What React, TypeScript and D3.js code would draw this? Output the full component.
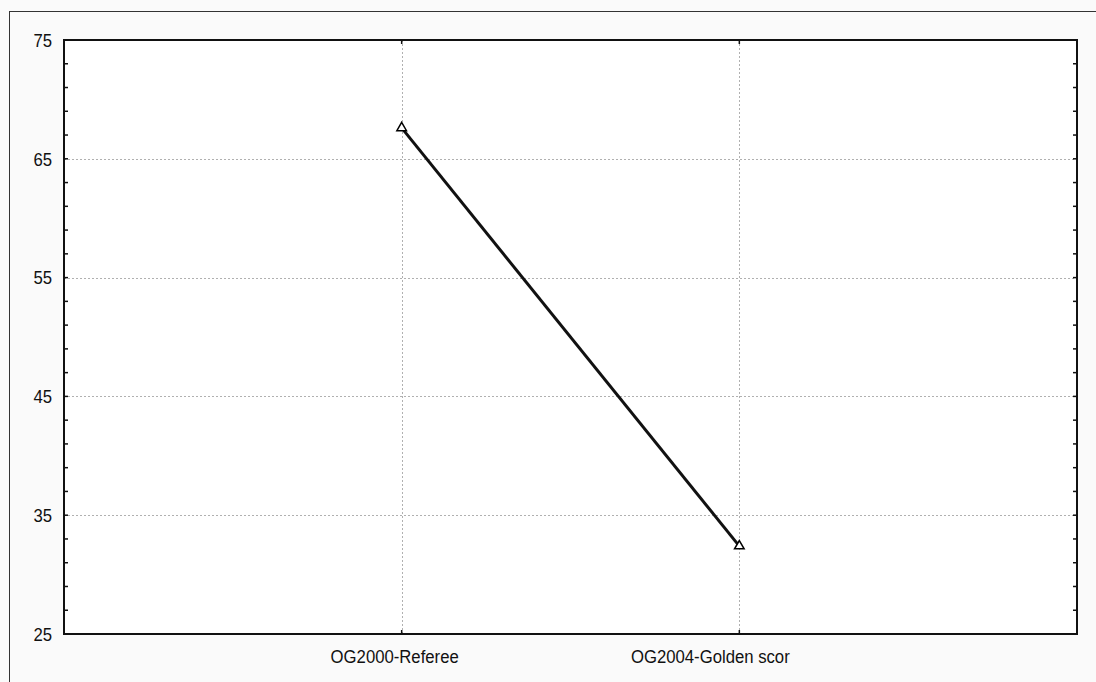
import React from "react";
import * as d3 from "d3";

const categories = ["OG2000-Referee", "OG2004-Golden scor"];
const values = [67.6, 32.4];
const yTicks = [25, 35, 45, 55, 65, 75];
const labelShift = [-7, -29];

const W = 1096;
const H = 682;
const M = { left: 64, top: 40, right: 1077, bottom: 634 };
const FONT = "'Liberation Sans', Arial, sans-serif";
const SX = 0.88;

export default function App() {
  const x = d3.scaleLinear().domain([0, categories.length + 1]).range([M.left, M.right]);
  const y = d3.scaleLinear().domain([25, 75]).range([M.bottom, M.top]);
  const minor = d3.range(25, 75.001, 2);
  const line = d3
    .line<number>()
    .x((_, i) => x(i + 1))
    .y((d) => y(d));
  const tri = d3.symbol().type(d3.symbolTriangle).size(40)();

  return (
    <svg
      width={W}
      height={H}
      style={{ position: "fixed", left: 0, top: 0, display: "block", background: "#fafafa" }}
    >
      <rect x={9.5} y={11.5} width={W + 20} height={H + 20} fill="#fafafa" stroke="#333" strokeWidth={1} />
      <rect x={M.left} y={M.top} width={M.right - M.left} height={M.bottom - M.top} fill="#fff" />
      {yTicks.slice(1, -1).map((t) => (
        <line key={"gy" + t} x1={M.left} x2={M.right} y1={Math.round(y(t)) + 0.5} y2={Math.round(y(t)) + 0.5}
          stroke="#b0b0b0" strokeDasharray="2,2" />
      ))}
      {categories.map((c, i) => (
        <line key={"gx" + c} x1={Math.round(x(i + 1)) + 0.5} x2={Math.round(x(i + 1)) + 0.5} y1={M.top} y2={M.bottom}
          stroke="#b0b0b0" strokeDasharray="2,2" />
      ))}
      <rect x={M.left} y={M.top} width={M.right - M.left} height={M.bottom - M.top} fill="none" stroke="#111" strokeWidth={2} />
      {minor.map((t) => (
        <g key={"t" + t}>
          <line x1={M.left} x2={M.left + 4} y1={y(t)} y2={y(t)} stroke="#111" strokeWidth={1.5} />
          <line x1={M.right - 4} x2={M.right} y1={y(t)} y2={y(t)} stroke="#111" strokeWidth={1.5} />
        </g>
      ))}
      {categories.map((c, i) => (
        <g key={"xt" + c}>
          <line x1={x(i + 1)} x2={x(i + 1)} y1={M.bottom} y2={M.bottom - 4} stroke="#111" strokeWidth={1.5} />
          <line x1={x(i + 1)} x2={x(i + 1)} y1={M.top} y2={M.top + 4} stroke="#111" strokeWidth={1.5} />
        </g>
      ))}
      {yTicks.map((t) => (
        <text key={"yl" + t} transform={`translate(52,${y(t)}) scale(${SX},1)`} dy="0.36em" textAnchor="end"
          fontFamily={FONT} fontSize={19} fill="#111">
          {t}
        </text>
      ))}
      {categories.map((c, i) => (
        <text key={"xl" + c} transform={`translate(${x(i + 1) + labelShift[i]},663) scale(${SX},1)`} textAnchor="middle"
          fontFamily={FONT} fontSize={19} fill="#111">
          {c}
        </text>
      ))}
      <path d={line(values) || ""} fill="none" stroke="#111" strokeWidth={3} />
      {values.map((v, i) => (
        <path key={"m" + i} d={tri || ""} transform={`translate(${x(i + 1)},${y(v)})`} fill="#fff" stroke="#000" strokeWidth={1.5} />
      ))}
    </svg>
  );
}
